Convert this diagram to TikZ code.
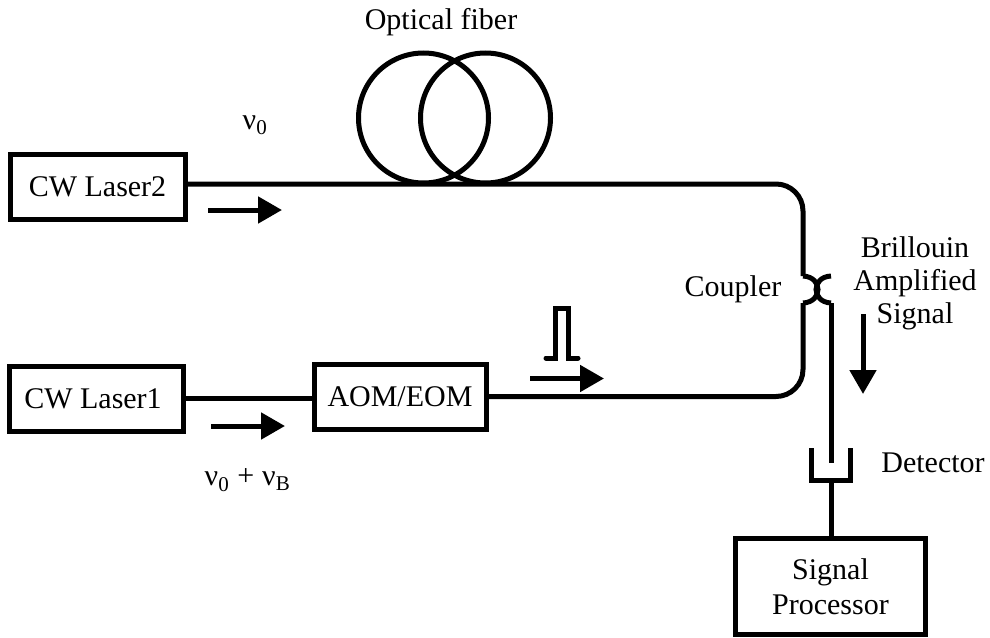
\documentclass[tikz,border=0pt]{standalone}
\usepackage{fontspec}
\setmainfont{Liberation Serif}
\usetikzlibrary{arrows.meta}
\tikzset{
    devbox/.style={draw, line width=5pt, inner sep=0pt, font=\fontsize{30}{33}\selectfont, align=center},
    fiber/.style={line width=5pt},
    flow/.style={line width=5pt, -{Triangle[length=24pt,width=26pt]}},
    lbl/.style={font=\fontsize{30}{33}\selectfont, align=center, inner sep=0pt},
}
\begin{document}
\begin{tikzpicture}[x=1pt, y=-1pt]
    \useasboundingbox (0,0) rectangle (990,637);
    \node[devbox, minimum width=175pt, minimum height=65pt] (laser2) at (97.5,186.5) {CW Laser2};
    \node[devbox, minimum width=174pt, minimum height=65pt] (laser1) at (96,398.5) {\hspace*{-6pt}CW Laser1};
    \node[devbox, minimum width=172pt, minimum height=65pt] (aom) at (400,396.5) {AOM/EOM};
    \node[devbox, minimum width=190pt, minimum height=96pt] (proc) at (830.5,586.5) {Signal\\[2pt]Processor};
    \node[lbl] (fiberlbl) at (441,22) {Optical fiber};
    \node[lbl] (nutop) at (255,125) {ν\textsubscript{0}};
    \node[lbl] (nubot) at (247.5,480) {ν\textsubscript{0}\,\kern3pt+\,\kern3ptν\textsubscript{B}};
    \node[lbl] (couplerlbl) at (733,289) {Coupler};
    \node[lbl] (brillouin) at (915,283) {Brillouin\\Amplified\\Signal};
    \node[lbl] (detlbl) at (933,463) {Detector};
    % fiber paths
    \coordinate (topleft) at (185,184);
    \coordinate (topend) at (803,276);
    \coordinate (botend) at (803,303);
    \coordinate (outtop) at (831,276);
    \coordinate (outbot) at (831,303);
    \coordinate (dettip) at (831,463);
    \coordinate (detl) at (811,448);
    \coordinate (detr) at (850,448);
    \coordinate (detbase) at (831,480);
    \draw[fiber, rounded corners=27pt] (topleft) -- (803,184) -- (topend);
    \draw[fiber, rounded corners=27pt] (aom.east) -- (803,396.5) -- (botend);
    \draw[fiber] (laser1.east) -- (laser1.east -| aom.west);
    \draw[fiber] (topend) .. controls (823,277) and (823,302) .. (botend);
    \draw[fiber] (outtop) .. controls (811,277) and (811,302) .. (outbot);
    \draw[fiber] (outbot) -- (dettip);
    \draw[fiber] (detl) -- (811,480) -- (850,480) -- (detr);
    \draw[fiber] (detbase) -- (detbase |- proc.north);
    % loops
    \draw[fiber] (423.5,118) circle (65);
    \draw[fiber] (485.5,118) circle (65);
    % pulse
    \draw[fiber, line cap=round] (546,358) -- (555,358) -- (555,308) -- (568,308) -- (568,358) -- (578,358);
    % arrows
    \coordinate (a2s) at (208,210); \coordinate (a2e) at (282,210);
    \coordinate (a1s) at (211,426); \coordinate (a1e) at (285,426);
    \coordinate (aps) at (530,378.5); \coordinate (ape) at (604,378.5);
    \coordinate (ads) at (863,314); \coordinate (ade) at (863,394);
    \draw[flow] (a2s) -- (a2e);
    \draw[flow] (a1s) -- (a1e);
    \draw[flow] (aps) -- (ape);
    \draw[flow] (ads) -- (ade);
\end{tikzpicture}
\end{document}
